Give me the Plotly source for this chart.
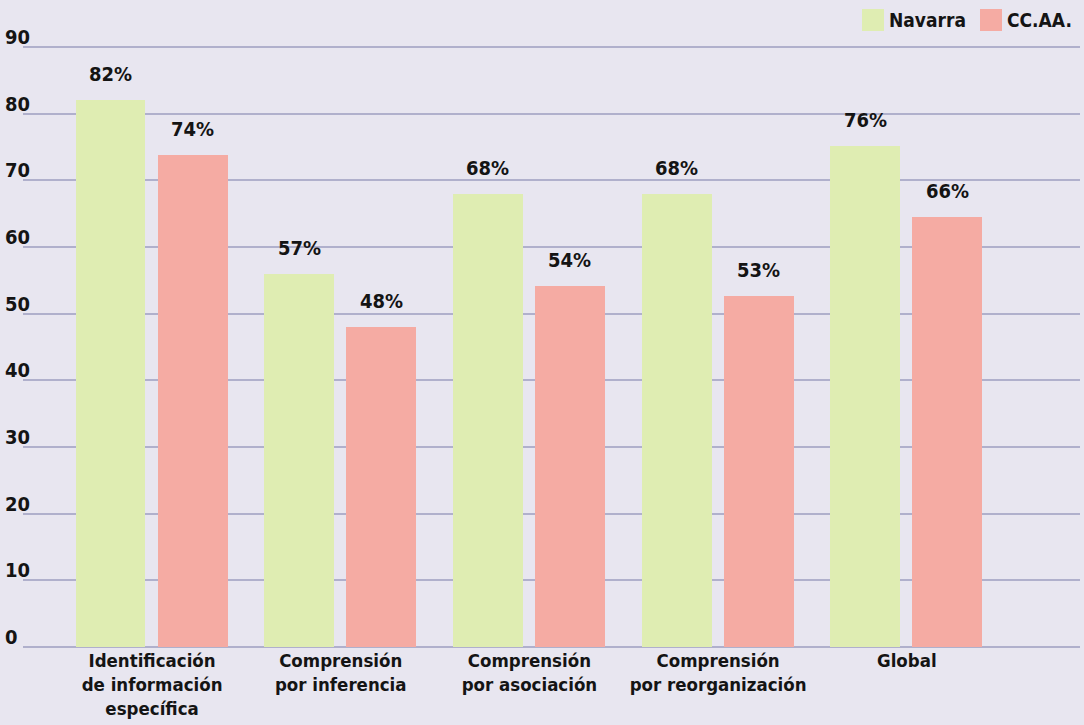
import plotly.graph_objects as go

categories = [
    "Identificación<br>de información<br>específica",
    "Comprensión<br>por inferencia",
    "Comprensión<br>por asociación",
    "Comprensión<br>por reorganización",
    "Global",
]
series_names = ["Navarra", "CC.AA."]
navarra = [82, 56, 68, 68, 75.2]
ccaa = [73.8, 48, 54.2, 52.7, 64.5]
navarra_labels = ["82%", "57%", "68%", "68%", "76%"]
ccaa_labels = ["74%", "48%", "54%", "53%", "66%"]
y_ticks = [0, 10, 20, 30, 40, 50, 60, 70, 80, 90]

BG = "#e8e6f0"
GREEN = "#dfedb2"
PINK = "#f5aba3"
GRID = "#b0b0cc"
TXT = "#141414"
FONT = "DejaVu Sans Condensed"

xi = list(range(len(categories)))
BW = 0.37
YMAX = 90.3
TOP = 647 - YMAX * 600 / 90

fig = go.Figure()
fig.add_trace(go.Bar(x=xi, y=navarra, name=series_names[0], marker_color=GREEN,
                     width=BW, offset=-0.405, marker_line_width=0, showlegend=False))
fig.add_trace(go.Bar(x=xi, y=ccaa, name=series_names[1], marker_color=PINK,
                     width=BW, offset=0.03, marker_line_width=0, showlegend=False))

ann = []
for i in xi:
    ann.append(dict(x=i - 0.405 + BW / 2, y=navarra[i], text=navarra_labels[i], xref="x", yref="y",
                    yanchor="bottom", showarrow=False, yshift=12,
                    font=dict(family=FONT, size=20, color=TXT, weight="bold")))
    ann.append(dict(x=i + 0.03 + BW / 2, y=ccaa[i], text=ccaa_labels[i], xref="x", yref="y",
                    yanchor="bottom", showarrow=False, yshift=12,
                    font=dict(family=FONT, size=20, color=TXT, weight="bold")))
for t in y_ticks:
    ann.append(dict(x=0, y=t, xref="paper", yref="y", text=str(t), xanchor="left",
                    yanchor="bottom", xshift=-20, yshift=-4, showarrow=False,
                    font=dict(family=FONT, size=20, color=TXT, weight="bold")))

# legend
shapes = []
leg_x = [862, 980]
PH = 725 - TOP - 78
for k, (nm, col) in enumerate(zip(series_names, [GREEN, PINK])):
    shapes.append(dict(type="rect", xref="paper", yref="paper",
                       x0=(leg_x[k] - 23) / 1057, x1=(leg_x[k] + 22 - 23) / 1057,
                       y0=(647 - 31) / PH, y1=(647 - 9) / PH,
                       fillcolor=col, line_width=0))
    ann.append(dict(x=(leg_x[k] + 25 - 23) / 1057, y=(647 - 20) / PH, xref="paper", yref="paper",
                    text=nm, xanchor="left", yanchor="middle", showarrow=False,
                    font=dict(family=FONT, size=19, color=TXT, weight="bold")))

fig.update_layout(
    width=1084, height=725,
    margin=dict(l=23, r=4, t=TOP, b=78, autoexpand=False),
    paper_bgcolor=BG, plot_bgcolor=BG,
    annotations=ann, shapes=shapes,
    bargap=0, showlegend=False,
)
fig.update_xaxes(
    tickmode="array", tickvals=xi, ticktext=categories, automargin=False,
    range=[-0.684, 4.918], showgrid=False, zeroline=False, showline=False,
    ticks="",
    tickfont=dict(family=FONT, size=18.5, color=TXT, weight="bold"),
)
fig.update_yaxes(
    range=[0, YMAX], tickvals=y_ticks, showticklabels=False, showgrid=True, automargin=False,
    gridcolor=GRID, gridwidth=1.5, zeroline=True, zerolinecolor=GRID, zerolinewidth=1.5,
    showline=False,
)

fig.write_html("out.html", config={"displayModeBar": False},
               post_script="document.body.style.margin='0';")
